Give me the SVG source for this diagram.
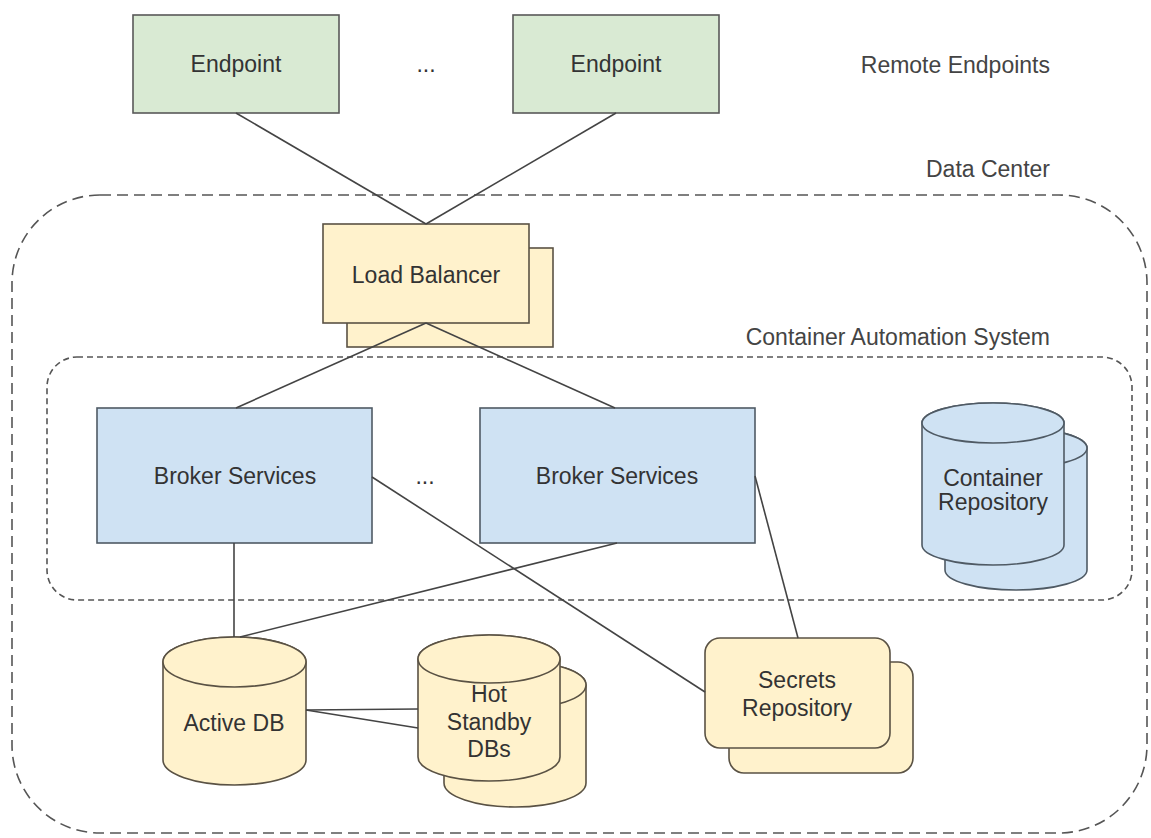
<svg xmlns="http://www.w3.org/2000/svg" width="1151" height="838" viewBox="0 0 1151 838">
<style>
text{font-family:"Liberation Sans",Arial,sans-serif;font-size:23px;fill:#333;text-anchor:middle}
.lbl{fill:#444;text-anchor:end}
.green{fill:#d9ead3;stroke:#595959;stroke-width:1.6}
.blue{fill:#cfe2f3;stroke:#4f5a64;stroke-width:1.6}
.yel{fill:#fff2cc;stroke:#5a5244;stroke-width:1.6}
.cblue{fill:#cfe2f3;stroke:#4f5a64;stroke-width:1.6}
.outer{fill:none;stroke:#555;stroke-width:1.6;stroke-dasharray:11 6}
.inner{fill:none;stroke:#555;stroke-width:1.6;stroke-dasharray:6 4}
.conn line{stroke:#444;stroke-width:1.6}
</style>
<g id="data-center">
<rect class="outer" x="12" y="195" width="1135" height="638" rx="88" ry="88"/>
<text class="lbl" x="1050" y="177">Data Center</text>
</g>
<g id="container-automation-system">
<rect class="inner" x="47" y="357" width="1085" height="243" rx="30" ry="30"/>
<text class="lbl" x="1050" y="345">Container Automation System</text>
</g>
<text class="lbl" x="1050" y="73" id="remote-endpoints">Remote Endpoints</text>
<g id="endpoint-1">
<rect class="green" x="133" y="15" width="206" height="98"/>
<text x="236" y="72">Endpoint</text>
</g>
<text x="426" y="72" id="ellipsis-1">...</text>
<g id="endpoint-2">
<rect class="green" x="513" y="15" width="206" height="98"/>
<text x="616" y="72">Endpoint</text>
</g>
<g id="load-balancer">
<rect class="yel" x="347" y="248" width="206" height="99"/>
<rect class="yel" x="323" y="224" width="206" height="99"/>
<text x="426" y="283">Load Balancer</text>
</g>
<g id="broker-1">
<rect class="blue" x="97" y="408" width="275" height="135"/>
<text x="235" y="484">Broker Services</text>
</g>
<text x="425" y="484" id="ellipsis-2">...</text>
<g id="broker-2">
<rect class="blue" x="480" y="408" width="275" height="135"/>
<text x="617" y="484">Broker Services</text>
</g>
<g id="container-repository">
<path class="cblue" d="M945,448 A71,20 0 0 1 1087,448 L1087,570 A71,20 0 0 1 945,570 Z"/>
<ellipse class="cblue" cx="1016" cy="448" rx="71" ry="20"/>
<path class="cblue" d="M922,423 A71,20 0 0 1 1064,423 L1064,545 A71,20 0 0 1 922,545 Z"/>
<ellipse class="cblue" cx="993" cy="423" rx="71" ry="20"/>
<text x="993" y="486">Container</text>
<text x="993" y="510">Repository</text>
</g>
<g id="active-db">
<path class="yel" d="M163,662 A71.5,25 0 0 1 306,662 L306,760 A71.5,25 0 0 1 163,760 Z"/>
<ellipse class="yel" cx="234.5" cy="662" rx="71.5" ry="25"/>
<text x="234" y="731">Active DB</text>
</g>
<g id="hot-standby-dbs">
<path class="yel" d="M444,685 A71,24 0 0 1 586,685 L586,783 A71,24 0 0 1 444,783 Z"/>
<ellipse class="yel" cx="515" cy="685" rx="71" ry="24"/>
<path class="yel" d="M418,659 A71,24 0 0 1 560,659 L560,757 A71,24 0 0 1 418,757 Z"/>
<ellipse class="yel" cx="489" cy="659" rx="71" ry="24"/>
<text x="489" y="702">Hot</text>
<text x="489" y="730">Standby</text>
<text x="489" y="757">DBs</text>
</g>
<g id="secrets-repository">
<rect class="yel" x="729" y="662" width="184" height="111" rx="15" ry="15"/>
<rect class="yel" x="705" y="638" width="185" height="110" rx="15" ry="15"/>
<text x="797" y="688">Secrets</text>
<text x="797" y="716">Repository</text>
</g>
<g class="conn" id="connectors">
<line x1="236" y1="113" x2="426" y2="224"/>
<line x1="616" y1="113" x2="426" y2="224"/>
<line x1="426" y1="323" x2="236" y2="408"/>
<line x1="426" y1="323" x2="615" y2="408"/>
<line x1="234" y1="543" x2="234" y2="637"/>
<line x1="617" y1="543" x2="240" y2="637"/>
<line x1="372" y1="477" x2="705" y2="692"/>
<line x1="755" y1="476" x2="798" y2="638"/>
<line x1="306" y1="710" x2="418" y2="709"/>
<line x1="306" y1="710" x2="418" y2="728"/>
</g>
</svg>
